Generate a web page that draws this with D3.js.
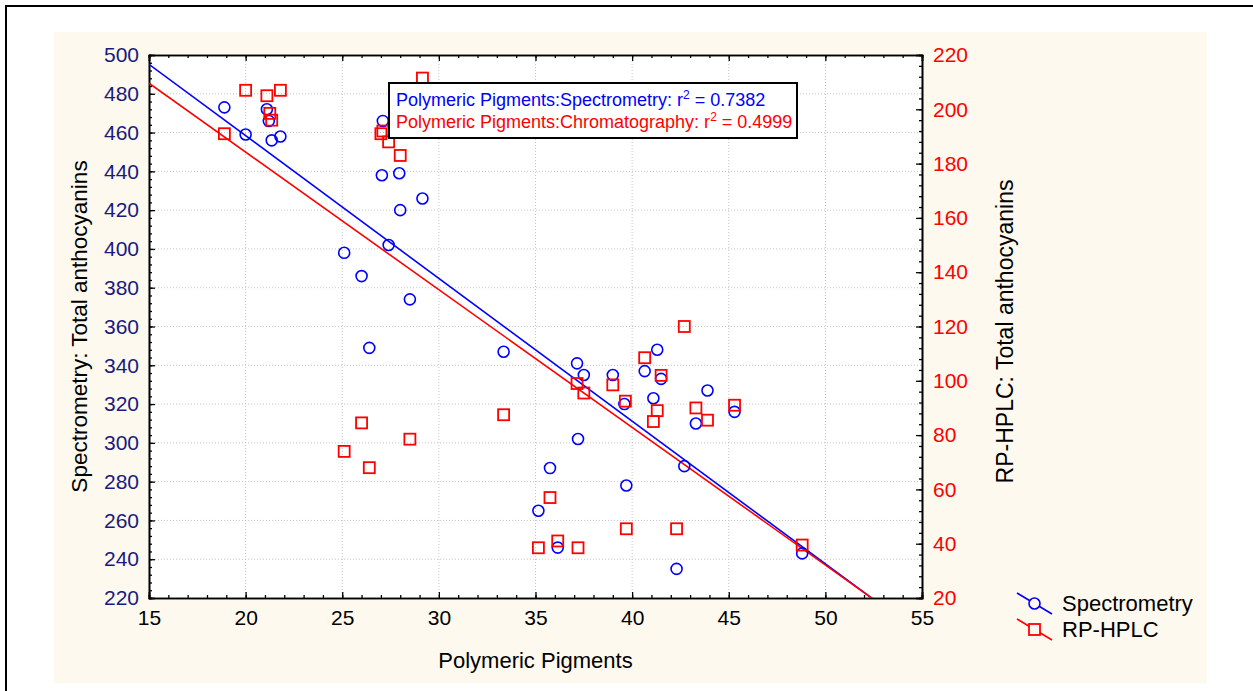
<!DOCTYPE html>
<html>
<head>
<meta charset="utf-8">
<script src="https://cdn.jsdelivr.net/npm/d3@7"></script>
<style>
body { margin: 0; background: #fff; }
text { font-family: "Liberation Sans", Arial, sans-serif; }
</style>
</head>
<body>
<div id="chart"></div>
<script>
// Spectrometry (left axis): polymeric pigments vs total anthocyanins
var specX = [18.9, 20.0, 21.1, 21.2, 21.35, 21.8, 27.1, 27.05, 27.95, 29.15, 28.0, 25.1, 27.4, 26.0, 28.5, 26.4,
    33.35, 37.15, 37.5, 39.0, 39.6, 40.65, 41.3, 41.5, 41.1, 43.9, 43.3, 45.3, 37.2, 35.75, 42.7, 39.7, 35.15, 36.15, 42.3, 48.8];
var specY = [473, 459, 472, 466, 456, 458, 466, 438, 439, 426, 420, 398, 402, 386, 374, 349,
    347, 341, 335, 335, 320, 337, 348, 333, 323, 327, 310, 316, 302, 287, 288, 278, 265, 246, 235, 243];

// RP-HPLC (right axis)
var hplcX = [20.0, 21.1, 21.8, 18.9, 21.25, 21.35, 29.15, 27.1, 27.0, 27.4, 28.0, 26.0, 28.5, 25.1, 26.4,
    33.35, 42.7, 40.65, 41.5, 37.15, 37.5, 39.0, 39.65, 41.3, 41.1, 43.3, 43.9, 45.3, 35.75, 35.15, 36.15, 37.2, 39.7, 42.3, 48.8];
var hplcY = [207, 205, 207, 191, 198.5, 196, 211.5, 192, 191, 188, 183, 84.5, 78.5, 74, 68,
    87.5, 120, 108.5, 102, 99, 95.5, 98.5, 92.5, 89, 85, 90, 85.5, 91, 57, 38.5, 41, 38.5, 45.5, 45.5, 39.5];

// fitted lines: [value at x=15, slope]
var specFit = [495.2, -7.36];
var hplcFit = [209.6, -5.07];

var xTicks = [15, 20, 25, 30, 35, 40, 45, 50, 55];
var leftTicks = [220, 240, 260, 280, 300, 320, 340, 360, 380, 400, 420, 440, 460, 480, 500];
var rightTicks = [20, 40, 60, 80, 100, 120, 140, 160, 180, 200, 220];
var r2Labels = ["Polymeric Pigments:Spectrometry: r", "Polymeric Pigments:Chromatography: r"];
var r2Values = ["0.7382", "0.4999"];
var seriesNames = ["Spectrometry", "RP-HPLC"];

var W = 1253, H = 691;
var margin = { top: 55, left: 149, right: 331, bottom: 93 };
var width = W - margin.left - margin.right;
var height = H - margin.top - margin.bottom;
var blue = "#0000ff", red = "#ff0000", navy = "#1a1a80";

var svg = d3.select("#chart")
    .append("svg")
    .attr("width", W)
    .attr("height", H);

// frame + cream background
svg.append("rect")
    .attr("x", 6).attr("y", 6).attr("width", W).attr("height", H)
    .attr("fill", "#fff").attr("stroke", "#000").attr("stroke-width", 2);
svg.append("rect")
    .attr("x", 54).attr("y", 32).attr("width", 1153).attr("height", 651)
    .attr("fill", "#fdf9ee");

var g = svg.append("g")
    .attr("transform", "translate(" + margin.left + "," + margin.top + ")");

g.append("rect")
    .attr("width", width).attr("height", height)
    .attr("fill", "#fff");

var x = d3.scaleLinear().domain([15, 55]).range([0, width]);
var yL = d3.scaleLinear().domain([220, 500]).range([height, 0]);
var yR = d3.scaleLinear().domain([20, 220]).range([height, 0]);

// grid
g.append("g")
    .selectAll("line")
    .data(xTicks.slice(1, -1))
    .join("line")
    .attr("x1", d => x(d)).attr("x2", d => x(d))
    .attr("y1", 0).attr("y2", height)
    .attr("stroke", "#c4c4c4").attr("stroke-dasharray", "1,2");
g.append("g")
    .selectAll("line")
    .data(leftTicks.slice(1, -1))
    .join("line")
    .attr("y1", d => yL(d)).attr("y2", d => yL(d))
    .attr("x1", 0).attr("x2", width)
    .attr("stroke", "#c4c4c4").attr("stroke-dasharray", "1,2");

// minor ticks
function minor(axis, scale, step) {
    var dom = scale.domain();
    return axis(scale).tickValues(d3.range(dom[0], dom[1] + 0.001, step))
        .tickSize(-3).tickFormat("");
}
g.append("g").attr("class", "minor").attr("transform", "translate(0," + height + ")")
    .call(minor(d3.axisBottom, x, 1));
g.append("g").attr("class", "minor")
    .call(minor(d3.axisTop, x, 1));
g.append("g").attr("class", "minor")
    .call(minor(d3.axisLeft, yL, 4));
g.append("g").attr("class", "minor").attr("transform", "translate(" + width + ",0)")
    .call(minor(d3.axisRight, yR, 4));

// major axes
var xAxis = g.append("g").attr("transform", "translate(0," + height + ")")
    .call(d3.axisBottom(x).tickValues(xTicks).tickSize(-6).tickPadding(12));
g.append("g")
    .call(d3.axisTop(x).tickValues(xTicks).tickSize(-6).tickFormat(""));
var lAxis = g.append("g")
    .call(d3.axisLeft(yL).tickValues(leftTicks).tickSize(-6).tickPadding(10));
var rAxis = g.append("g").attr("transform", "translate(" + width + ",0)")
    .call(d3.axisRight(yR).tickValues(rightTicks).tickSize(-6).tickPadding(11));

g.selectAll(".domain").attr("stroke", "#000").attr("stroke-width", 1.6);
g.selectAll(".tick line").attr("stroke", "#000").attr("stroke-width", 1.3);
g.selectAll(".tick text").style("font-size", "21px").style("font-family", "Liberation Sans, Arial, sans-serif");
xAxis.selectAll(".tick text").attr("fill", "#000");
lAxis.selectAll(".tick text").attr("fill", navy);
rAxis.selectAll(".tick text").attr("fill", red);

// axis titles
g.append("text")
    .attr("x", width / 2).attr("y", height + 70)
    .attr("text-anchor", "middle")
    .style("font-size", "22px")
    .text("Polymeric Pigments");
g.append("text")
    .attr("transform", "translate(-62," + (height / 2) + ") rotate(-90)")
    .attr("text-anchor", "middle")
    .style("font-size", "22.5px")
    .text("Spectrometry: Total anthocyanins");
g.append("text")
    .attr("transform", "translate(" + (width + 91) + "," + (height / 2 + 5) + ") rotate(-90)")
    .attr("text-anchor", "middle")
    .style("font-size", "23px")
    .text("RP-HPLC: Total anthocyanins");

// clip for fit lines
svg.append("clipPath").attr("id", "plotclip")
    .append("rect").attr("width", width).attr("height", height);

var plot = g.append("g").attr("clip-path", "url(#plotclip)");

function fitLine(fit, yScale, color) {
    var xs = [15, 55];
    plot.append("path")
        .datum(xs)
        .attr("fill", "none")
        .attr("stroke", color)
        .attr("stroke-width", 1.6)
        .attr("d", d3.line()
            .x(d => x(d))
            .y(d => yScale(fit[0] + fit[1] * (d - 15))));
}
fitLine(specFit, yL, blue);
fitLine(hplcFit, yR, red);

// points
g.append("g")
    .selectAll("circle")
    .data(specX)
    .join("circle")
    .attr("cx", d => x(d))
    .attr("cy", (d, i) => yL(specY[i]))
    .attr("r", 5.5)
    .attr("fill", "none")
    .attr("stroke", blue)
    .attr("stroke-width", 1.6);

g.append("g")
    .selectAll("rect")
    .data(hplcX)
    .join("rect")
    .attr("x", d => x(d) - 5.5)
    .attr("y", (d, i) => yR(hplcY[i]) - 5.5)
    .attr("width", 11)
    .attr("height", 11)
    .attr("fill", "none")
    .attr("stroke", red)
    .attr("stroke-width", 1.8);

// r2 box
var box = svg.append("g").attr("transform", "translate(389,83)");
box.append("rect")
    .attr("width", 408).attr("height", 55)
    .attr("fill", "#fff").attr("stroke", "#000").attr("stroke-width", 2);
box.selectAll("text")
    .data(r2Labels)
    .join("text")
    .attr("x", 7)
    .attr("y", (d, i) => 23 + i * 21.5)
    .attr("fill", (d, i) => i === 0 ? blue : red)
    .style("font-size", "18px")
    .each(function (d, i) {
        var t = d3.select(this);
        t.append("tspan").text(d);
        t.append("tspan").attr("dy", -7).style("font-size", "12px").text("2");
        t.append("tspan").attr("dy", 7).text(" = " + r2Values[i]);
    });

// legend
var legend = svg.selectAll(".legend")
    .data(seriesNames)
    .join("g")
    .attr("class", "legend")
    .attr("transform", (d, i) => "translate(1017," + (593 + i * 26) + ")");
legend.append("line")
    .attr("x1", 0).attr("y1", 0).attr("x2", 35).attr("y2", 21)
    .attr("stroke", (d, i) => i === 0 ? blue : red)
    .attr("stroke-width", 1.6);
legend.filter((d, i) => i === 0).append("circle")
    .attr("cx", 17.5).attr("cy", 10.5).attr("r", 5.5)
    .attr("fill", "#fdf9ee").attr("stroke", blue).attr("stroke-width", 1.6);
legend.filter((d, i) => i === 1).append("rect")
    .attr("x", 12).attr("y", 5).attr("width", 11).attr("height", 11)
    .attr("fill", "#fdf9ee").attr("stroke", red).attr("stroke-width", 1.8);
legend.append("text")
    .attr("x", 45).attr("y", 18)
    .style("font-size", "22px")
    .text(d => d);
</script>
</body>
</html>
